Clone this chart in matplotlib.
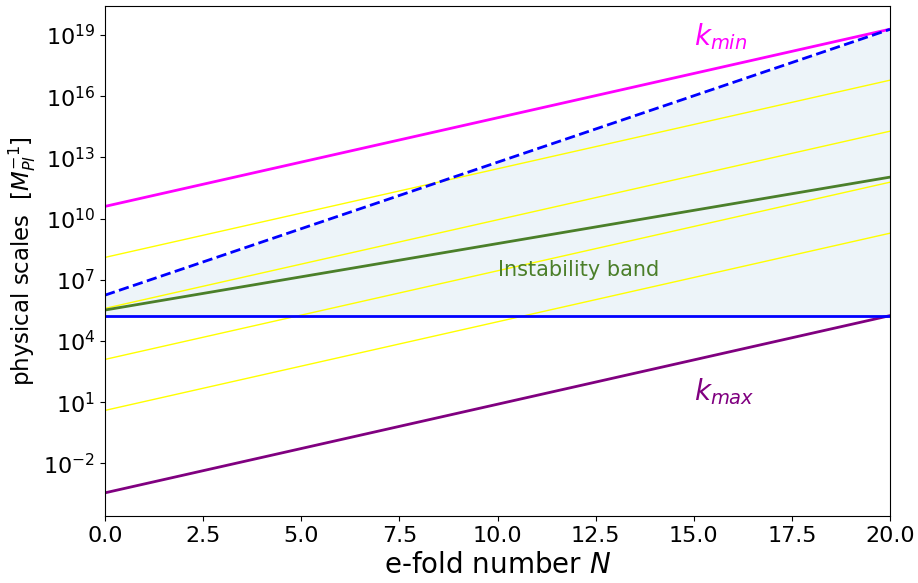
import numpy as np
import matplotlib.pyplot as plt

# e-fold grid and line parameters
N = np.linspace(0, 20, 201)
log_kmin0 = 10.6          # log10 k_min at N=0, grows like e^N
log_kmax0 = -3.44         # log10 k_max at N=0, grows like e^N
log_dash0 = 6.25          # dashed upper edge of the band at N=0
dash_rate = 1.5           # dashed edge grows like e^(1.5 N)
log_green0 = 5.52         # central mode at N=0
green_rate = 0.75         # grows like e^(0.75 N)
yellow_offsets = [2.5, 5.0, 7.5, 10.0]   # decades below k_min

kmin = 10**log_kmin0 * np.exp(N)
kmax = 10**log_kmax0 * np.exp(N)
k_flat = kmax[-1] * np.ones_like(N)
k_dash = 10**log_dash0 * np.exp(dash_rate * N)
k_green = 10**log_green0 * np.exp(green_rate * N)

fig, ax = plt.subplots(figsize=(9.18, 5.83), dpi=100)
fig.subplots_adjust(left=0.1144, right=0.9695, top=0.9897, bottom=0.1149)

ax.fill_between(N, k_flat, k_dash, color='C0', alpha=0.08, lw=0)
for off in yellow_offsets:
    ax.plot(N, kmin * 10**(-off), color='yellow', lw=1)
ax.plot(N, kmin, color='magenta', lw=2)
ax.plot(N, kmax, color='purple', lw=2)
ax.plot(N, k_flat, color='blue', lw=2)
ax.plot(N, k_dash, color='blue', lw=2, ls='--')
ax.plot(N, k_green, color='#4b7f2a', lw=2)

ax.set_yscale('log')
ax.set_xlim(0, 20)

ax.text(15, 10**18.5, r'$k_{min}$', color='magenta', fontsize=20)
ax.text(15, 10**1.1, r'$k_{max}$', color='purple', fontsize=20)
ax.text(10, 10**7.2, 'Instability band', color='#4b7f2a', fontsize=15)

ax.set_xlabel(r'e-fold number $N$', fontsize=20)
ax.set_ylabel(r'physical scales  $[M_{Pl}^{-1}]$', fontsize=16.5)
ax.tick_params(labelsize=16)

plt.savefig('out.png')
